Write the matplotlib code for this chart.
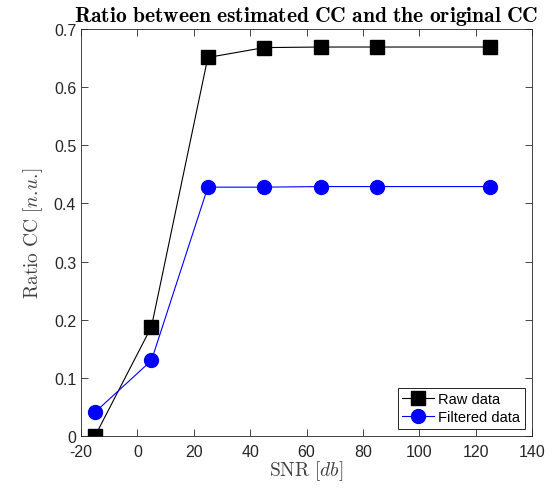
import numpy as np
import matplotlib
matplotlib.use("Agg")
import matplotlib.pyplot as plt

# data
snr = [-15, 5, 25, 45, 65, 85, 125]
raw_ratio = [0.0, 0.188, 0.651, 0.668, 0.669, 0.669, 0.669]
filt_ratio = [0.041, 0.130, 0.428, 0.428, 0.429, 0.429, 0.429]

plt.rcParams['font.family'] = ['Liberation Sans', 'DejaVu Sans']
plt.rcParams['mathtext.fontset'] = 'cm'
plt.rcParams['axes.unicode_minus'] = False

fig = plt.figure(figsize=(5.52, 4.89), dpi=100)
ax = fig.add_axes([81/552, 1 - 437/489, (532-81)/552, (437-30)/489])

ax.plot(snr, raw_ratio, '-s', color='black', markersize=9.5, linewidth=0.8, label='Raw data')
ax.plot(snr, filt_ratio, '-o', color='blue', markersize=10, linewidth=0.8, label='Filtered data')

ax.set_xlim(-20, 140)
ax.set_ylim(0, 0.7)
ax.set_xticks(np.arange(-20, 141, 20))
ax.set_yticks(np.arange(0, 0.71, 0.1))
ax.set_yticklabels(['0', '0.1', '0.2', '0.3', '0.4', '0.5', '0.6', '0.7'])

ax.tick_params(direction='in', top=True, right=True, length=5, width=0.6,
               labelsize=11.5, colors='#262626')
ax.tick_params(axis='x', pad=6)
for s in ax.spines.values():
    s.set_linewidth(0.6)
    s.set_color('#262626')

ax.set_title(r'$\mathbf{Ratio\ between\ estimated\ CC\ and\ the\ original\ CC}$',
             fontsize=15.5, pad=6)
ax.set_xlabel(r'$\mathrm{SNR}\ [db]$', fontsize=14, color='#404040', labelpad=-1)
ax.set_ylabel(r'$\mathrm{Ratio\ CC}\ [n.\!u.\!]$', fontsize=14, color='#404040', labelpad=6)

leg = ax.legend(loc='lower right', fontsize=10.5, fancybox=False, edgecolor='black',
                framealpha=1, borderpad=0.3, handlelength=2.2, borderaxespad=0.5,
                labelspacing=0.3, handletextpad=0.3)
leg.get_frame().set_linewidth(0.6)

fig.savefig('out.png', dpi=100)
